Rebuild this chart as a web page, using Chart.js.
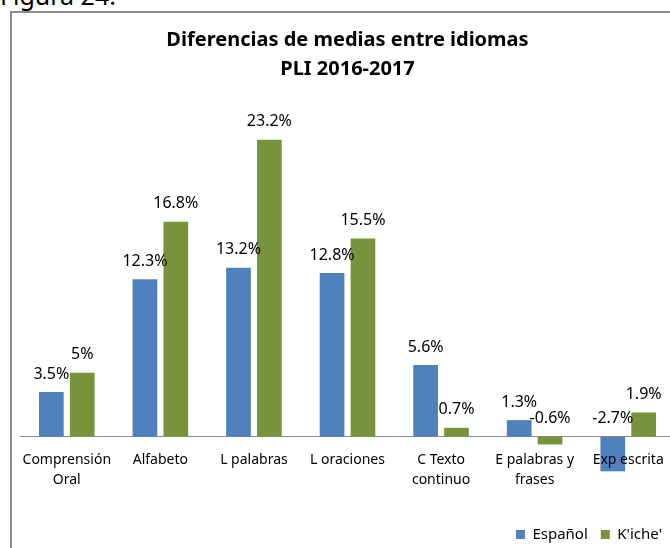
<!DOCTYPE html>
<html>
<head>
<meta charset="utf-8">
<script src="https://cdn.jsdelivr.net/npm/chart.js@4/dist/chart.umd.min.js"></script>
<style>
  body { margin: 0; width: 670px; height: 548px; overflow: hidden; position: relative; background: #fff; font-family: "Noto Sans", sans-serif; }
  #fig { position: absolute; left: 0; top: -20px; font-size: 25px; line-height: 30px; color: #000; }
  #frame { position: absolute; left: 10px; top: 11px; width: 680px; height: 600px; border: 2px solid #8c8c8c; }
  #wrap { position: absolute; left: 0; top: 0; width: 700px; height: 552px; }
</style>
</head>
<body>
<div id="fig">Figura 24.</div>
<div id="frame"></div>
<div id="wrap"><canvas id="chart" width="700" height="552"></canvas></div>
<script>
// chart data
var categories = [["Comprensión", "Oral"], "Alfabeto", "L palabras", "L oraciones", ["C Texto", "continuo"], ["E palabras y", "frases"], "Exp escrita"];
var espanol = [3.5, 12.3, 13.2, 12.8, 5.6, 1.3, -2.7];
var kiche = [5, 16.8, 23.2, 15.5, 0.7, -0.6, 1.9];
var seriesNames = ["Español", "K'iche'"];
var colors = ["#4F81BD", "#77933C"];

var fontFamily = "'Noto Sans', sans-serif";

// value labels over the bars, negatives sit above the zero line
var barLabels = {
	id: "barLabels",
	afterDatasetsDraw: function(chart) {
		var ctx = chart.ctx;
		var zeroY = chart.scales.y.getPixelForValue(0);
		ctx.save();
		ctx.font = "16px " + fontFamily;
		ctx.fillStyle = "#000";
		ctx.textAlign = "center";
		ctx.textBaseline = "middle";
		chart.data.datasets.forEach(function(ds, i) {
			var meta = chart.getDatasetMeta(i);
			meta.data.forEach(function(bar, j) {
				var v = ds.data[j];
				var y = v >= 0 ? bar.y - 18 : zeroY - 18;
				ctx.fillText(v + "%", bar.x, y);
			});
		});
		ctx.restore();
	}
};

new Chart(document.getElementById("chart"), {
	type: "bar",
	data: {
		labels: categories,
		datasets: [{
			label: seriesNames[0],
			data: espanol,
			backgroundColor: colors[0],
			clip: false,
			barPercentage: 0.8,
			categoryPercentage: 0.66
		}, {
			label: seriesNames[1],
			data: kiche,
			backgroundColor: colors[1],
			clip: false,
			barPercentage: 0.8,
			categoryPercentage: 0.66
		}]
	},
	options: {
		responsive: false,
		animation: false,
		devicePixelRatio: 1,
		layout: { padding: { left: 20, right: 25, top: 0, bottom: 0 } },
		plugins: {
			title: {
				display: true,
				text: ["Diferencias de medias entre idiomas", "PLI 2016-2017"],
				color: "#000",
				font: { family: fontFamily, size: 20, weight: "bold", lineHeight: 1.45 },
				padding: { top: 26, bottom: 20 }
			},
			legend: {
				position: "bottom",
				align: "end",
				title: { display: true, text: "", font: { size: 1 }, padding: { top: 10, bottom: 0 } },
				labels: {
					boxWidth: 9,
					boxHeight: 9,
					padding: 13,
					color: "#000",
					font: { family: fontFamily, size: 15 }
				}
			},
			tooltip: { enabled: false }
		},
		scales: {
			x: {
				grid: { display: false, drawTicks: false },
				border: { display: true, color: "#8c8c8c", width: 1 },
				ticks: {
					z: 1,
					color: "#000",
					padding: 13,
					autoSkip: false,
					maxRotation: 0,
					font: { family: fontFamily, size: 14, lineHeight: 1.43 }
				}
			},
			y: {
				display: false,
				min: 0,
				max: 26
			}
		}
	},
	plugins: [barLabels]
});
</script>
</body>
</html>
